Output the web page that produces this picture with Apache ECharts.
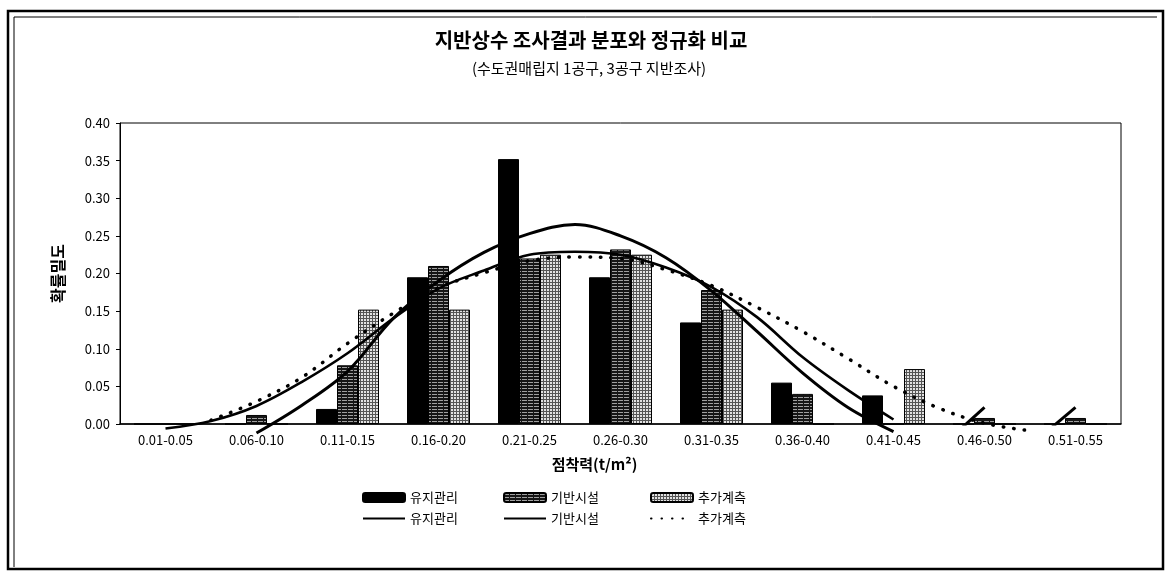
<!DOCTYPE html>
<html>
<head>
<meta charset="utf-8">
<script src="https://cdn.jsdelivr.net/npm/echarts@6/dist/echarts.min.js"></script>
<style>
html,body{margin:0;padding:0;background:#fff;}
#chart{width:1165px;height:573px;}
</style>
</head>
<body>
<div id="chart"></div>
<script>
// ---- data ----
const categories = ['0.01-0.05','0.06-0.10','0.11-0.15','0.16-0.20','0.21-0.25','0.26-0.30','0.31-0.35','0.36-0.40','0.41-0.45','0.46-0.50','0.51-0.55'];
const yTicks = [0.00,0.05,0.10,0.15,0.20,0.25,0.30,0.35,0.40];
// bar values (probability of each class)
const maintBars = [0, 0, 0.020, 0.195, 0.352, 0.195, 0.135, 0.055, 0.038, 0, 0];
const baseBars  = [0, 0.012, 0.078, 0.210, 0.220, 0.232, 0.178, 0.040, 0, 0.008, 0.008];
const addBars   = [0, 0, 0.152, 0.152, 0.225, 0.225, 0.152, 0, 0.073, 0, 0];
// normalized curves, read at class mid-points and class boundaries (t/m2)
const curveX = [0.030, 0.055, 0.080, 0.105, 0.130, 0.155, 0.180, 0.205, 0.230, 0.255, 0.280, 0.305, 0.330, 0.355, 0.380, 0.405, 0.430, 0.455, 0.480, 0.505, 0.530];
const maintCurve = [null, null, -0.012, 0.025, 0.070, 0.140, 0.190, 0.228, 0.253, 0.265, 0.250, 0.221, 0.177, 0.123, 0.068, 0.022, -0.010, null, null, null, null];
const baseCurve  = [-0.006, 0.004, 0.024, 0.056, 0.094, 0.140, 0.180, 0.204, 0.225, 0.229, 0.225, 0.208, 0.182, 0.142, 0.089, 0.045, 0.006, null, null, null, null];
const addCurve   = [null, 0.005, 0.030, 0.062, 0.107, 0.147, 0.181, 0.201, 0.217, 0.222, 0.220, 0.205, 0.184, 0.155, 0.123, 0.087, 0.050, 0.021, 0.001, -0.009, null];
// two short stray curve pieces near the right end
const stubA = [null, null, null, null, null, null, null, null, -0.087, 0.022, null];
const stubB = [null, null, null, null, null, null, null, null, null, -0.080, 0.022];
const seriesNames = ['유지관리', '기반시설', '추가계측'];
const pairs = ys => curveX.map((x, i) => [x, ys[i]]);

// ---- patterns ----
function makePattern(w, h, draw) {
  const c = document.createElement('canvas');
  c.width = w; c.height = h;
  const ctx = c.getContext('2d');
  draw(ctx);
  return { image: c, repeat: 'repeat' };
}
const stripePattern = makePattern(6, 3, ctx => {
  ctx.fillStyle = '#161616'; ctx.fillRect(0, 0, 6, 3);
  ctx.fillStyle = '#a0a0a0'; ctx.fillRect(0, 1, 5, 1);
});
const gridPattern = makePattern(3, 3, ctx => {
  ctx.fillStyle = '#e2e2e2'; ctx.fillRect(0, 0, 3, 3);
  ctx.fillStyle = '#555'; ctx.fillRect(0, 0, 3, 1); ctx.fillRect(0, 0, 1, 3);
});

const font = '"Noto Sans CJK KR", "Liberation Sans", sans-serif';
const chart = echarts.init(document.getElementById('chart'), null, { renderer: 'canvas' });

function legendAt(left, top, name, text, isLine) {
  const l = {
    left: left, top: top, orient: 'horizontal', padding: 0,
    itemWidth: 42, itemHeight: 9, selectedMode: false,
    data: [name],
    formatter: () => text,
    textStyle: { fontFamily: font, fontSize: 13, color: '#000' }
  };
  if (isLine) l.itemStyle = { color: 'rgba(0,0,0,0)', borderWidth: 0, opacity: 0 };
  return l;
}

const barCommon = { type: 'bar', barWidth: 21, barGap: '0%', xAxisIndex: 0 };
const lineCommon = { type: 'line', smooth: 0.35, symbol: 'none', showSymbol: false, clip: false, z: 5, xAxisIndex: 1 };

const option = {
  backgroundColor: '#fff',
  animation: false,
  textStyle: { fontFamily: font },
  graphic: [
    { type: 'rect', shape: { x: 8, y: 11, width: 1155, height: 558 }, style: { fill: 'none', stroke: '#000', lineWidth: 2.5 } },
    { type: 'polyline', shape: { points: [[14, 567], [14, 17], [1157, 17]] }, style: { fill: 'none', stroke: '#000', lineWidth: 1 } },
    { type: 'text', x: 591, y: 40, style: { text: '지반상수 조사결과 분포와 정규화 비교', font: 'bold 20px ' + font, fill: '#000', align: 'center', verticalAlign: 'middle' } },
    { type: 'text', x: 589, y: 68, style: { text: '(수도권매립지 1공구, 3공구 지반조사)', font: '15px ' + font, fill: '#000', align: 'center', verticalAlign: 'middle' } }
  ],
  legend: [
    legendAt(362, 491, '유지관리', '유지관리', false),
    legendAt(503, 491, '기반시설', '기반시설', false),
    legendAt(650, 491, '추가계측', '추가계측', false),
    legendAt(362, 512, '유지관리_선', '유지관리', true),
    legendAt(503, 512, '기반시설_선', '기반시설', true),
    legendAt(650, 512, '추가계측_선', '추가계측', true)
  ],
  grid: { left: 120, right: 44, top: 123, bottom: 149, show: true, borderColor: '#000', borderWidth: 1, backgroundColor: 'transparent' },
  xAxis: [{
    type: 'category', data: categories, boundaryGap: true,
    axisLine: { lineStyle: { color: '#000', width: 1.5 } },
    axisTick: { inside: true, length: 4, lineStyle: { color: '#000' } },
    axisLabel: { color: '#000', fontSize: 13, margin: 10, fontFamily: font, interval: 0 },
    name: '점착력(t/m²)', nameLocation: 'middle', nameGap: 33,
    nameTextStyle: { color: '#000', fontSize: 15, fontWeight: 'bold', fontFamily: font, padding: [0, 52, 0, 0] }
  }, {
    type: 'value', min: 0.005, max: 0.555, show: false
  }],
  yAxis: {
    type: 'value', min: yTicks[0], max: yTicks[yTicks.length - 1], interval: yTicks[1] - yTicks[0],
    splitLine: { show: false },
    axisLine: { show: true, lineStyle: { color: '#000', width: 1 } },
    axisTick: { show: true, length: 4, lineStyle: { color: '#000' } },
    axisLabel: { color: '#000', fontSize: 13, margin: 10, fontFamily: font, formatter: v => v.toFixed(2) },
    name: '확률밀도', nameLocation: 'middle', nameGap: 54, nameRotate: 90,
    nameTextStyle: { color: '#000', fontSize: 16, fontWeight: 'bold', fontFamily: font }
  },
  series: [
    Object.assign({}, barCommon, { name: seriesNames[0], data: maintBars, itemStyle: { color: '#000', borderColor: '#000', borderWidth: 1 } }),
    Object.assign({}, barCommon, { name: seriesNames[1], data: baseBars, itemStyle: { color: stripePattern, borderColor: '#000', borderWidth: 1 } }),
    Object.assign({}, barCommon, { name: seriesNames[2], data: addBars, itemStyle: { color: gridPattern, borderColor: '#000', borderWidth: 1 } }),
    Object.assign({}, lineCommon, { name: '유지관리_선', data: pairs(maintCurve), lineStyle: { color: '#000', width: 3 }, itemStyle: { color: '#000' } }),
    Object.assign({}, lineCommon, { name: '기반시설_선', data: pairs(baseCurve), lineStyle: { color: '#000', width: 2.6 }, itemStyle: { color: '#000' } }),
    Object.assign({}, lineCommon, { name: '추가계측_선', data: pairs(addCurve), lineStyle: { color: '#000', width: 3.5, type: [0.5, 10], cap: 'round' }, itemStyle: { color: '#000' } }),
    { type: 'line', xAxisIndex: 0, data: stubA, symbol: 'none', clip: true, smooth: false, lineStyle: { color: '#000', width: 3 }, z: 5 },
    { type: 'line', xAxisIndex: 0, data: stubB, symbol: 'none', clip: true, smooth: false, lineStyle: { color: '#000', width: 3 }, z: 5 }
  ]
};
chart.setOption(option);
</script>
</body>
</html>
